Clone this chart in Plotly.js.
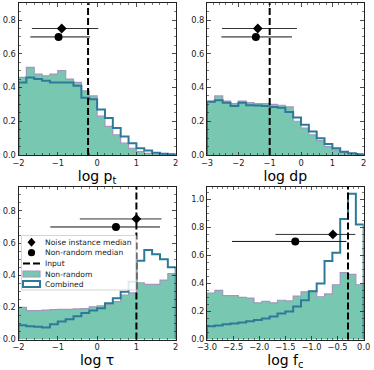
<!DOCTYPE html>
<html>
<head>
<meta charset="utf-8">
<script src="https://cdn.plot.ly/plotly-3.0.1.min.js"></script>
<style>
  html, body { margin: 0; padding: 0; background: #fff; }
  #chart { width: 374px; height: 370px; }
</style>
</head>
<body>
<div id="chart"></div>
<script>
// --- Histogram values ---
const ptNonRandom = [0.46, 0.52, 0.48, 0.47, 0.48, 0.50, 0.45, 0.43, 0.38, 0.35, 0.23, 0.17, 0.12, 0.07, 0.04, 0.02, 0.01, 0.006, 0.003, 0.002];
const ptCombined  = [0.43, 0.46, 0.45, 0.44, 0.43, 0.43, 0.43, 0.41, 0.34, 0.33, 0.27, 0.22, 0.16, 0.11, 0.07, 0.04, 0.026, 0.014, 0.007, 0.004];

const dpNonRandom = [0.32, 0.35, 0.32, 0.305, 0.32, 0.31, 0.305, 0.305, 0.30, 0.295, 0.285, 0.20, 0.16, 0.12, 0.085, 0.05, 0.03, 0.015, 0.006, 0.003];
const dpCombined  = [0.315, 0.325, 0.31, 0.29, 0.31, 0.295, 0.293, 0.29, 0.285, 0.28, 0.255, 0.222, 0.18, 0.14, 0.10, 0.065, 0.04, 0.02, 0.01, 0.004];

const tauNonRandom = [0.20, 0.18, 0.18, 0.183, 0.186, 0.187, 0.187, 0.19, 0.193, 0.203, 0.21, 0.22, 0.236, 0.276, 0.29, 0.353, 0.343, 0.343, 0.37, 0.41];
const tauCombined  = [0.088, 0.083, 0.079, 0.075, 0.095, 0.112, 0.126, 0.145, 0.165, 0.18, 0.195, 0.226, 0.256, 0.297, 0.36, 0.49, 0.557, 0.53, 0.50, 0.45];

const fcNonRandom = [0.332, 0.35, 0.313, 0.313, 0.30, 0.296, 0.262, 0.272, 0.262, 0.28, 0.275, 0.31, 0.34, 0.345, 0.305, 0.325, 0.39, 0.478, 0.465, 0.39];
const fcCombined  = [0.095, 0.10, 0.108, 0.115, 0.122, 0.13, 0.14, 0.15, 0.165, 0.185, 0.20, 0.235, 0.28, 0.345, 0.40, 0.56, 0.62, 0.86, 1.04, 0.82];

// bins: first edge and width, per panel (pt, dp, tau, fc)
const binStart = [-2, -3, -2, -3];
const binWidth = [0.2, 0.25, 0.2, 0.15];

// input values (dashed lines)
const inputValues = [-0.23, -1.0, 1.0, -0.3];

// medians with their ranges
const noiseMedian = [-0.90, -1.38, 1.0, -0.59];
const noiseLow    = [-1.66, -2.52, -0.44, -1.69];
const noiseHigh   = [0.03, -0.13, 1.64, -0.16];
const nonRandMedian = [-0.98, -1.44, 0.48, -1.31];
const nonRandLow    = [-1.70, -2.54, -1.19, -2.52];
const nonRandHigh   = [-0.18, -0.29, 1.60, -0.33];
const noiseY = 0.75;
const nonRandY = 0.70;

const axisTitles = ['log p<sub>t</sub>', 'log dp', 'log τ', 'log f<sub>c</sub>'];
const xRanges = [[-2, 2], [-3, 2], [-2, 2], [-3, 0]];
const yRanges = [[0, 0.9], [0, 0.9], [0, 0.95], [0, 1.09]];

// --- Style ---
const FILL = '#78c8b1';
const EDGE = '#a396bd';
const TEAL = '#2c7a98';
const INK = '#222';
const W = 374, H = 370;

const nonRandomSets = [ptNonRandom, dpNonRandom, tauNonRandom, fcNonRandom];
const combinedSets = [ptCombined, dpCombined, tauCombined, fcCombined];

function stepXY(start, width, values) {
    const x = [start], y = [0];
    values.forEach((v, i) => { x.push(start + i * width); y.push(v); });
    const end = start + values.length * width;
    x.push(end); y.push(values[values.length - 1]);
    x.push(end); y.push(0);
    return { x, y };
}

const px = v => v / W;
const py = v => 1 - v / H;

const xDomains = [[18.5, 175.7], [207, 363.7]];
const yDomains = [[3.2, 155], [186.8, 339.5]];

const traces = [];
const layout = {
    width: W, height: H,
    margin: { l: 0, r: 0, t: 0, b: 0 },
    paper_bgcolor: '#fff',
    plot_bgcolor: '#fff',
    font: { family: 'DejaVu Sans', color: INK, size: 8 },
    showlegend: false,
    shapes: [],
    annotations: []
};

for (let p = 0; p < 4; p++) {
    const sfx = p === 0 ? '' : String(p + 1);
    const xa = 'x' + sfx, ya = 'y' + sfx;
    const col = p % 2, row = Math.floor(p / 2);

    const nr = stepXY(binStart[p], binWidth[p], nonRandomSets[p]);
    traces.push({
        x: nr.x, y: nr.y, xaxis: xa, yaxis: ya,
        type: 'scatter', mode: 'lines',
        line: { shape: 'hv', color: EDGE, width: 1.2 },
        fill: 'tozeroy', fillcolor: FILL,
        hoverinfo: 'skip'
    });

    const cb = stepXY(binStart[p], binWidth[p], combinedSets[p]);
    traces.push({
        x: cb.x, y: cb.y, xaxis: xa, yaxis: ya,
        type: 'scatter', mode: 'lines',
        line: { shape: 'hv', color: TEAL, width: 2 },
        hoverinfo: 'skip'
    });

    traces.push({
        x: [noiseMedian[p]], y: [noiseY], xaxis: xa, yaxis: ya,
        type: 'scatter', mode: 'markers',
        marker: { symbol: 'diamond', size: 7.5, color: '#000' },
        error_x: { type: 'data', symmetric: false,
            array: [noiseHigh[p] - noiseMedian[p]],
            arrayminus: [noiseMedian[p] - noiseLow[p]],
            width: 0, thickness: 1, color: '#333' }
    });
    traces.push({
        x: [nonRandMedian[p]], y: [nonRandY], xaxis: xa, yaxis: ya,
        type: 'scatter', mode: 'markers',
        marker: { symbol: 'circle', size: 8, color: '#000' },
        error_x: { type: 'data', symmetric: false,
            array: [nonRandHigh[p] - nonRandMedian[p]],
            arrayminus: [nonRandMedian[p] - nonRandLow[p]],
            width: 0, thickness: 1, color: '#111' }
    });

    layout.shapes.push({
        type: 'line', xref: xa, yref: ya + ' domain',
        x0: inputValues[p], x1: inputValues[p], y0: 0, y1: 1,
        line: { color: '#000', width: 2, dash: '7px,3px' }
    });

    const isFc = p === 3;
    layout['xaxis' + sfx] = {
        domain: [px(xDomains[col][0]), px(xDomains[col][1])],
        anchor: ya,
        range: xRanges[p],
        dtick: isFc ? 0.5 : 1,
        tickformat: isFc ? '.1f' : 'd',
        ticks: 'inside', ticklen: 3.5, tickwidth: 0.8, tickcolor: INK,
        minor: { ticks: 'inside', ticklen: 2, tickwidth: 0.6, tickcolor: INK, dtick: isFc ? 0.1 : 0.2 },
        showline: true, linecolor: INK, linewidth: 1, mirror: 'ticks',
        showgrid: false, zeroline: false,
        tickfont: { size: 8.3, color: INK },
        automargin: false,
        title: { text: axisTitles[p], font: { size: 14, color: '#000' }, standoff: 1 }
    };
    layout['yaxis' + sfx] = {
        domain: [py(yDomains[row][1]), py(yDomains[row][0])],
        anchor: xa,
        range: yRanges[p],
        dtick: 0.2,
        tickformat: '.1f',
        ticks: 'inside', ticklen: 3.5, tickwidth: 0.8, tickcolor: INK,
        minor: { ticks: 'inside', ticklen: 2, tickwidth: 0.6, tickcolor: INK, dtick: 0.05 },
        showline: true, linecolor: INK, linewidth: 1, mirror: 'ticks',
        showgrid: false, zeroline: false,
        tickfont: { size: 8.3, color: INK },
        automargin: false
    };
}

// --- Legend drawn by hand in the lower-left panel (compact, like the source) ---
const legendLabels = ['Noise instance median', 'Non-random median', 'Input', 'Non-random', 'Combined'];
const legendRows = [242.3, 252.7, 263.5, 274, 284];
const hx0 = 23, hx1 = 40, hmid = 31.5;

layout.shapes.push({
    type: 'rect', xref: 'paper', yref: 'paper', layer: 'above',
    x0: px(21.5), x1: px(136), y0: py(235.5), y1: py(290),
    fillcolor: 'rgba(255,255,255,0.85)', line: { color: '#d6d6d6', width: 1 }
});
// diamond
layout.shapes.push({
    type: 'path', xref: 'paper', yref: 'paper', layer: 'above',
    path: `M${px(hmid - 4)},${py(legendRows[0])} L${px(hmid)},${py(legendRows[0] - 4.5)} L${px(hmid + 4)},${py(legendRows[0])} L${px(hmid)},${py(legendRows[0] + 4.5)} Z`,
    fillcolor: '#000', line: { width: 0 }
});
// circle
layout.shapes.push({
    type: 'circle', xref: 'paper', yref: 'paper', layer: 'above',
    x0: px(hmid - 3.6), x1: px(hmid + 3.6), y0: py(legendRows[1] + 3.6), y1: py(legendRows[1] - 3.6),
    fillcolor: '#000', line: { width: 0 }
});
// dashed input line
layout.shapes.push({
    type: 'line', xref: 'paper', yref: 'paper', layer: 'above',
    x0: px(hx0), x1: px(hx1), y0: py(legendRows[2]), y1: py(legendRows[2]),
    line: { color: '#000', width: 2, dash: '7px,3px' }
});
// patches
layout.shapes.push({
    type: 'rect', xref: 'paper', yref: 'paper', layer: 'above',
    x0: px(hx0), x1: px(hx1), y0: py(legendRows[3] + 3), y1: py(legendRows[3] - 3),
    fillcolor: FILL, line: { color: EDGE, width: 1.2 }
});
layout.shapes.push({
    type: 'rect', xref: 'paper', yref: 'paper', layer: 'above',
    x0: px(hx0), x1: px(hx1), y0: py(legendRows[4] + 3), y1: py(legendRows[4] - 3),
    fillcolor: '#fff', line: { color: TEAL, width: 2 }
});

legendLabels.forEach((t, i) => {
    layout.annotations.push({
        text: t, xref: 'paper', yref: 'paper',
        x: px(43), y: py(legendRows[i]),
        xanchor: 'left', yanchor: 'middle', showarrow: false,
        font: { size: 7.6, color: INK }
    });
});

Plotly.newPlot('chart', traces, layout, { displayModeBar: false, staticPlot: true });
</script>
</body>
</html>
